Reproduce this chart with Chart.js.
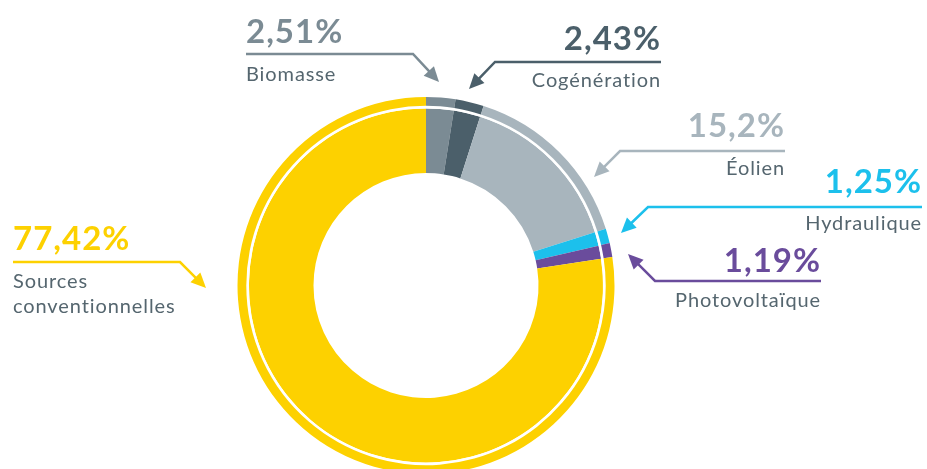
<!DOCTYPE html>
<html>
<head>
<meta charset="utf-8">
<script src="https://cdn.jsdelivr.net/npm/chart.js@4"></script>
<style>
  html, body { margin: 0; padding: 0; background: #fff; overflow: hidden; }
  #wrap { width: 927px; height: 490px; }
</style>
</head>
<body>
<div id="wrap"><canvas id="c" width="927" height="490"></canvas></div>
<script>
const categories = ['Biomasse', 'Cogénération', 'Éolien', 'Hydraulique', 'Photovoltaïque', 'Sources conventionnelles'];
const values = [2.51, 2.43, 15.2, 1.25, 1.19, 77.42];
const colors = ['#7b8b94', '#4b5f6a', '#a8b5bd', '#1cc0ec', '#6a4c9c', '#fdd100'];

// callout layout: text anchor, line polyline (last point = arrow tip)
const callouts = [
  { align: 'left',  x: 246, y: 43,  sub: ['Biomasse'], subY: 81, pts: [[246, 54], [413, 54], [439, 82]] },
  { align: 'right', x: 661, y: 50,  sub: ['Cogénération'], subY: 87, pts: [[661, 62], [495, 62], [469, 89]] },
  { align: 'right', x: 785, y: 137, sub: ['Éolien'], subY: 175, pts: [[785, 151], [620, 151], [594, 177]] },
  { align: 'right', x: 922, y: 193, sub: ['Hydraulique'], subY: 230, pts: [[922, 207], [648, 207], [621, 233]] },
  { align: 'right', x: 821, y: 272, sub: ['Photovoltaïque'], subY: 307, pts: [[821, 281], [655, 281], [628, 254]] },
  { align: 'left',  x: 13,  y: 250, sub: ['Sources', 'conventionnelles'], subY: 288, pts: [[13, 262], [180, 262], [206, 288]] }
];

const fmt = v => String(v).replace('.', ',') + '%';

const calloutPlugin = {
  id: 'callouts',
  afterDraw(chart) {
    const ctx = chart.ctx;
    ctx.save();
    callouts.forEach((c, i) => {
      const col = colors[i];
      ctx.textAlign = c.align;
      ctx.textBaseline = 'alphabetic';
      ctx.fillStyle = col;
      ctx.font = 'bold 33px Lato';
      ctx.letterSpacing = '1px';
      ctx.fillText(fmt(values[i]), c.x, c.y);
      ctx.fillStyle = '#55666f';
      ctx.font = '400 20px Lato';
      ctx.letterSpacing = '0.9px';
      c.sub.forEach((s, k) => ctx.fillText(s, c.x, c.subY + k * 25));

      // line + arrow
      const p = c.pts;
      const tip = p[p.length - 1];
      const prev = p[p.length - 2];
      const ang = Math.atan2(tip[1] - prev[1], tip[0] - prev[0]);
      const len = 15, hw = 7;
      const bx = tip[0] - Math.cos(ang) * len, by = tip[1] - Math.sin(ang) * len;
      ctx.strokeStyle = col;
      ctx.fillStyle = col;
      ctx.lineWidth = 2.5;
      ctx.lineJoin = 'miter';
      ctx.beginPath();
      ctx.moveTo(p[0][0], p[0][1]);
      for (let k = 1; k < p.length - 1; k++) ctx.lineTo(p[k][0], p[k][1]);
      ctx.lineTo(bx + Math.cos(ang) * 2, by + Math.sin(ang) * 2);
      ctx.stroke();
      ctx.beginPath();
      ctx.moveTo(tip[0], tip[1]);
      ctx.lineTo(bx + Math.sin(ang) * hw, by - Math.cos(ang) * hw);
      ctx.lineTo(bx - Math.sin(ang) * hw, by + Math.cos(ang) * hw);
      ctx.closePath();
      ctx.fill();
    });
    ctx.restore();
  }
};

new Chart(document.getElementById('c'), {
  type: 'doughnut',
  data: {
    labels: categories,
    datasets: [
      { data: values, backgroundColor: colors, borderWidth: 0, weight: 8.8 },
      { data: values, backgroundColor: '#ffffff', borderWidth: 0, weight: 2.6 },
      { data: values, backgroundColor: colors, borderWidth: 0, weight: 64.6 }
    ]
  },
  options: {
    responsive: false,
    animation: false,
    cutout: 112.5,
    layout: { padding: { left: 237.5, right: 312.5, top: 97, bottom: 16 } },
    plugins: { legend: { display: false }, tooltip: { enabled: false } },
    events: []
  },
  plugins: [calloutPlugin]
});
</script>
</body>
</html>
